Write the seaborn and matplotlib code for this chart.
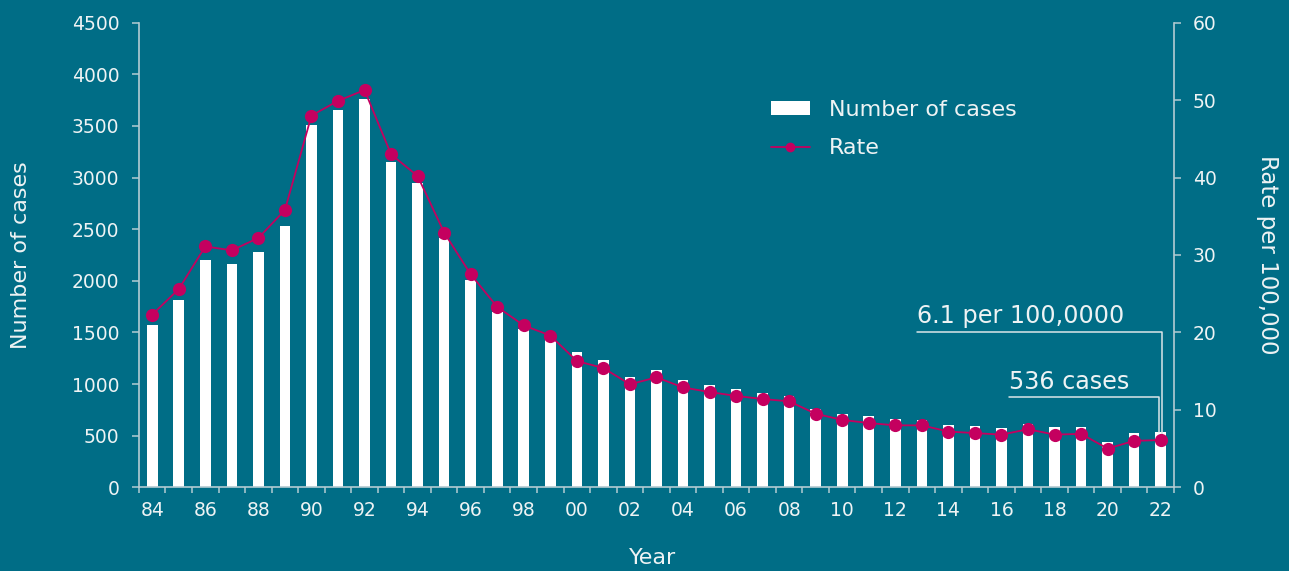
import numpy as np
import matplotlib
matplotlib.use("Agg")
import matplotlib.pyplot as plt
from matplotlib.patches import Patch
from matplotlib.lines import Line2D
import seaborn as sns

# Annual notified cases and rate per 100,000 population, 1984-2022
years = list(range(1984, 2023))
cases = [1576, 1812, 2200, 2166, 2282, 2534, 3509, 3654, 3761, 3154,
         2944, 2412, 2010, 1700, 1530, 1440, 1312, 1234, 1069, 1133,
         1037, 986, 951, 913, 889, 757, 709, 686, 660, 653,
         600, 590, 575, 615, 580, 585, 443, 524, 536]
rate = [22.3, 25.6, 31.1, 30.6, 32.2, 35.8, 48.0, 49.9, 51.3, 43.0,
        40.2, 32.9, 27.5, 23.3, 20.9, 19.6, 16.3, 15.4, 13.3, 14.2,
        12.9, 12.3, 11.8, 11.4, 11.1, 9.5, 8.7, 8.3, 8.0, 8.0,
        7.2, 7.0, 6.8, 7.5, 6.8, 6.9, 5.0, 6.0, 6.1]
tick_years = years[::2]
tick_labels = [f"{y % 100:02d}" for y in tick_years]
case_ticks = list(range(0, 4501, 500))
rate_ticks = list(range(0, 61, 10))

BG = "#006D86"
MAG = "#C4005F"
TXT = "#EEF3F4"
SPINE = "#B4CBD2"
NOTE = "#DCE6E8"

sns.set_theme(style="ticks")
plt.rcParams["font.family"] = ["DejaVu Sans"]

fig = plt.figure(figsize=(12.89, 5.71), dpi=100, facecolor=BG)
ax = fig.add_axes([0.1078, 0.1466, 0.80295, 0.8137])
ax.set_facecolor(BG)

sns.barplot(x=years, y=cases, native_scale=True, width=0.4, color="white",
            saturation=1, errorbar=None, linewidth=0, ax=ax, zorder=2)

ax2 = ax.twinx()
sns.lineplot(x=years, y=rate, ax=ax2, color=MAG, linewidth=1.3,
             marker="o", markersize=9.5, markeredgewidth=0, legend=False,
             zorder=3)

ax.set_xlim(years[0] - 0.5, years[-1] + 0.5)
ax.set_ylim(0, 4500)
ax2.set_ylim(0, 60)

ax.set_xticks(tick_years)
ax.set_xticklabels(tick_labels)
ax.set_xticks(np.arange(years[0] - 0.5, years[-1] + 1, 1), minor=True)
ax.set_yticks(case_ticks)
ax2.set_yticks(rate_ticks)

for a in (ax, ax2):
    for s in a.spines.values():
        s.set_color(SPINE)
        s.set_linewidth(1.2)
ax.spines["top"].set_visible(False)
ax.spines["right"].set_visible(False)
ax2.spines["top"].set_visible(False)
ax2.spines["left"].set_visible(False)
ax2.spines["bottom"].set_visible(False)

ax.tick_params(axis="x", which="major", length=0, pad=10, labelsize=13.5,
               labelcolor=TXT)
ax.tick_params(axis="x", which="minor", length=4.5, width=1.1, color=SPINE,
               direction="out")
ax.tick_params(axis="y", length=5, width=1.1, color=SPINE, pad=9,
               labelsize=13.5, labelcolor=TXT)
ax2.tick_params(axis="y", length=5, width=1.1, color=SPINE, pad=8.5,
                labelsize=13.5, labelcolor=TXT)

ax.set_xlabel("Year", fontsize=16, color=TXT, va="top")
ax.xaxis.set_label_coords(0.496, -0.130)
ax.set_ylabel("Number of cases", fontsize=16, color=TXT, va="bottom")
ax.yaxis.set_label_coords(-0.104, 0.5)
ax2.set_ylabel("Rate per 100,000", fontsize=16.5, color=TXT, rotation=270,
               va="bottom")
ax2.yaxis.set_label_coords(1.079, 0.5)

# Leader lines for the latest-year call-outs
last_year = years[-1]
rate_note_y = 20
case_note_y = 872
ax2.plot([last_year - 9.2, last_year + 0.05, last_year + 0.05],
         [rate_note_y, rate_note_y, rate[-1]], color=NOTE, lw=1.1, zorder=2)
ax.plot([last_year - 5.7, last_year - 0.07, last_year - 0.07],
        [case_note_y, case_note_y, cases[-1]], color=NOTE, lw=1.1, zorder=4)
ax2.annotate(f"{rate[-1]} per 100,0000", xy=(last_year - 9.2, rate_note_y),
             xytext=(0, 7), textcoords="offset points", va="baseline",
             ha="left", fontsize=17.2, color=TXT)
ax.annotate(f"{cases[-1]} cases", xy=(last_year - 5.7, case_note_y),
            xytext=(0, 6), textcoords="offset points", va="baseline",
            ha="left", fontsize=17.2, color=TXT)

handles = [Patch(facecolor="white", edgecolor="none"),
           Line2D([], [], color=MAG, lw=1.3, marker="o", markersize=7,
                  markeredgewidth=0)]
fig.legend(handles, ["Number of cases", "Rate"], loc="upper left",
           bbox_to_anchor=(771 / 1289, 1 - 100 / 571), frameon=False,
           fontsize=16, handlelength=1.75, handleheight=0.55,
           handletextpad=0.85, labelspacing=0.82, borderpad=0,
           borderaxespad=0, labelcolor=TXT)

fig.savefig("out.png", dpi=100, facecolor=BG)
